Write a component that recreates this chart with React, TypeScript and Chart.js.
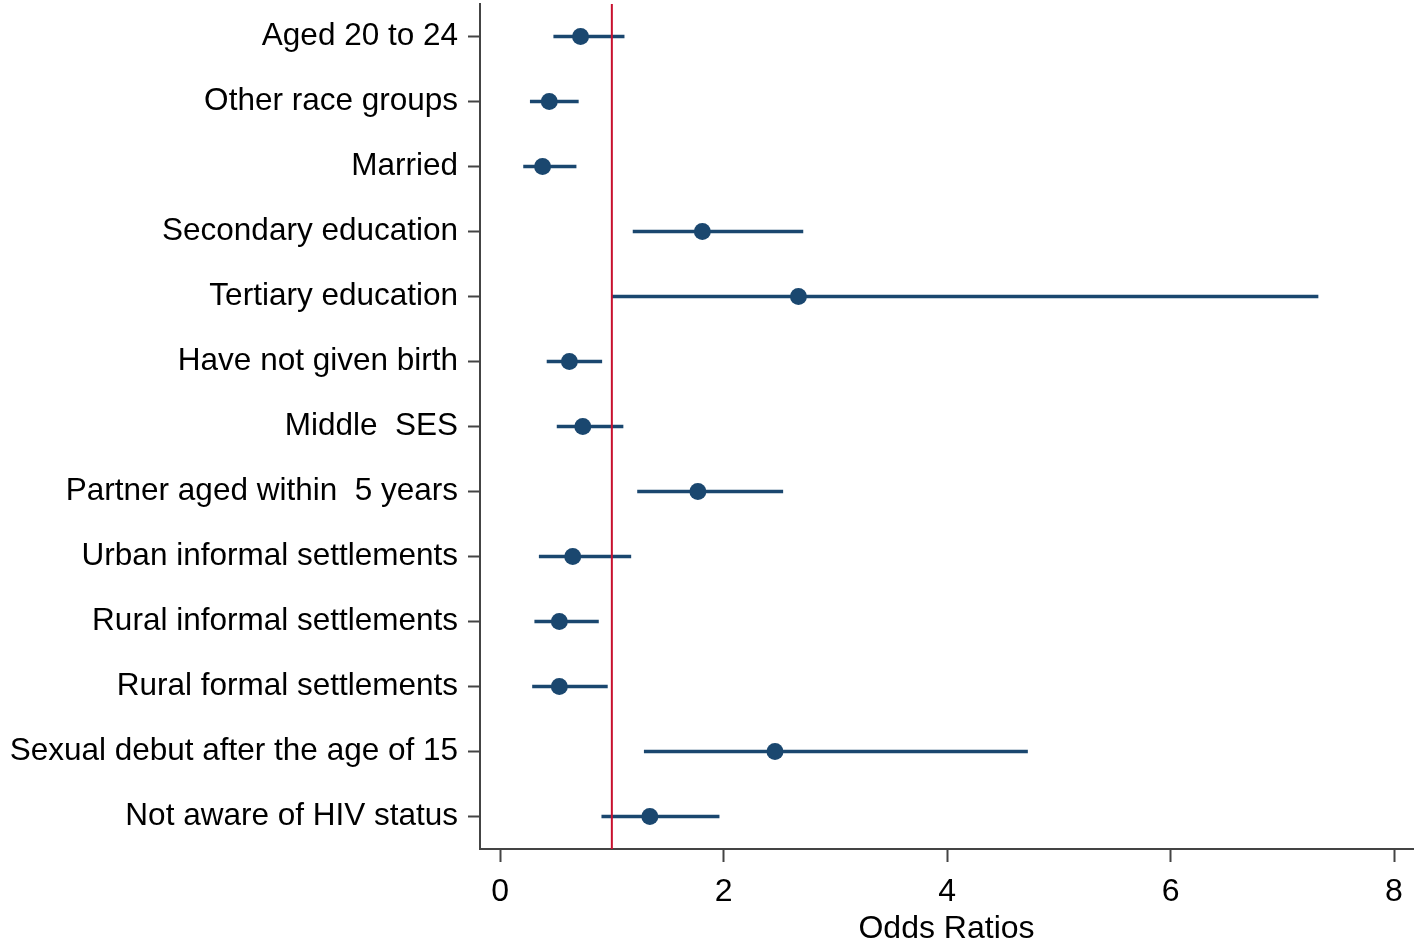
import React, { useEffect, useRef } from "react";
import { Chart, registerables } from "chart.js";

Chart.register(...registerables);

const categories = [
  "Aged 20 to 24",
  "Other race groups",
  "Married",
  "Secondary education",
  "Tertiary education",
  "Have not given birth",
  "Middle  SES",
  "Partner aged within  5 years",
  "Urban informal settlements",
  "Rural informal settlements",
  "Rural formal settlements",
  "Sexual debut after the age of 15",
  "Not aware of HIV status",
];
const oddsRatios = [0.72, 0.44, 0.38, 1.81, 2.67, 0.62, 0.74, 1.77, 0.65, 0.53, 0.53, 2.46, 1.34];
const ciLower = [0.48, 0.27, 0.21, 1.19, 1.0, 0.42, 0.51, 1.23, 0.35, 0.31, 0.29, 1.29, 0.91];
const ciUpper = [1.11, 0.7, 0.68, 2.71, 7.32, 0.91, 1.1, 2.53, 1.17, 0.88, 0.96, 4.72, 1.96];
const xTicks = [0, 2, 4, 6, 8];
const xMin = -0.18;
const xMax = 8.17;
const refLine = 1;
const xTitle = "Odds Ratios";

const NAVY = "#1a476f";
const RED = "#c8102e";
const AXIS = "#444444";
const FONT = "'Liberation Sans', Arial, sans-serif";

export default function App() {
  const ref = useRef<HTMLCanvasElement | null>(null);
  useEffect(() => {
    if (!ref.current) return;
    const refLinePlugin = {
      id: "refLine",
      afterDatasetsDraw(chart: any) {
        const { ctx, chartArea, scales } = chart;
        const x = scales.x.getPixelForValue(refLine);
        ctx.save();
        ctx.strokeStyle = RED;
        ctx.lineWidth = 2;
        ctx.beginPath();
        ctx.moveTo(x, chartArea.top);
        ctx.lineTo(x, chartArea.bottom);
        ctx.stroke();
        ctx.restore();
      },
    };
    const chart = new Chart(ref.current, {
      type: "bar",
      data: {
        labels: categories,
        datasets: [
          {
            type: "bar",
            indexAxis: "y",
            data: categories.map((_, i) => [ciLower[i], ciUpper[i]]),
            backgroundColor: NAVY,
            barThickness: 3,
            borderWidth: 0,
            order: 2,
          } as any,
          {
            type: "line",
            indexAxis: "y",
            data: oddsRatios,
            showLine: false,
            pointRadius: 8.5,
            pointBackgroundColor: NAVY,
            pointBorderColor: NAVY,
            pointBorderWidth: 0,
            order: 1,
          } as any,
        ],
      },
      options: {
        indexAxis: "y",
        animation: false,
        responsive: false,
        layout: { autoPadding: false, padding: { top: 4, right: 5, left: 0, bottom: 0 } },
        plugins: { legend: { display: false }, tooltip: { enabled: false } },
        scales: {
          x: {
            type: "linear",
            min: xMin,
            max: xMax,
            afterBuildTicks: (scale: any) => {
              scale.ticks = xTicks.map((v) => ({ value: v }));
            },
            afterFit: (scale: any) => {
              scale.height = 94;
              scale.paddingLeft = 0;
              scale.paddingRight = 0;
            },
            grid: {
              display: true,
              drawOnChartArea: false,
              drawTicks: true,
              tickLength: 13,
              tickWidth: 2,
              tickColor: AXIS,
            },
            border: { display: true, color: AXIS, width: 2 },
            ticks: {
              color: "#000",
              font: { family: FONT, size: 32 },
              padding: 11,
              maxRotation: 0,
            },
            title: {
              display: true,
              text: xTitle,
              color: "#000",
              font: { family: FONT, size: 32 },
              padding: { top: 0, bottom: -5 },
            },
          },
          y: {
            type: "category",
            offset: true,
            afterFit: (scale: any) => {
              scale.width = 480;
              scale.paddingTop = 0;
              scale.paddingBottom = 0;
            },
            grid: {
              display: true,
              drawOnChartArea: false,
              drawTicks: true,
              tickLength: 12,
              tickWidth: 2,
              tickColor: AXIS,
              offset: false,
            },
            border: { display: true, color: AXIS, width: 2 },
            ticks: {
              color: "#000",
              font: { family: FONT, size: 31.5 },
              padding: 10,
              autoSkip: false,
            },
          },
        },
      },
      plugins: [refLinePlugin],
    });
    return () => chart.destroy();
  }, []);
  return (
    <div style={{ position: "fixed", left: 0, top: 0, width: 1418, height: 943, background: "#fff" }}>
      <canvas ref={ref} width={1418} height={943} style={{ display: "block" }} />
    </div>
  );
}
